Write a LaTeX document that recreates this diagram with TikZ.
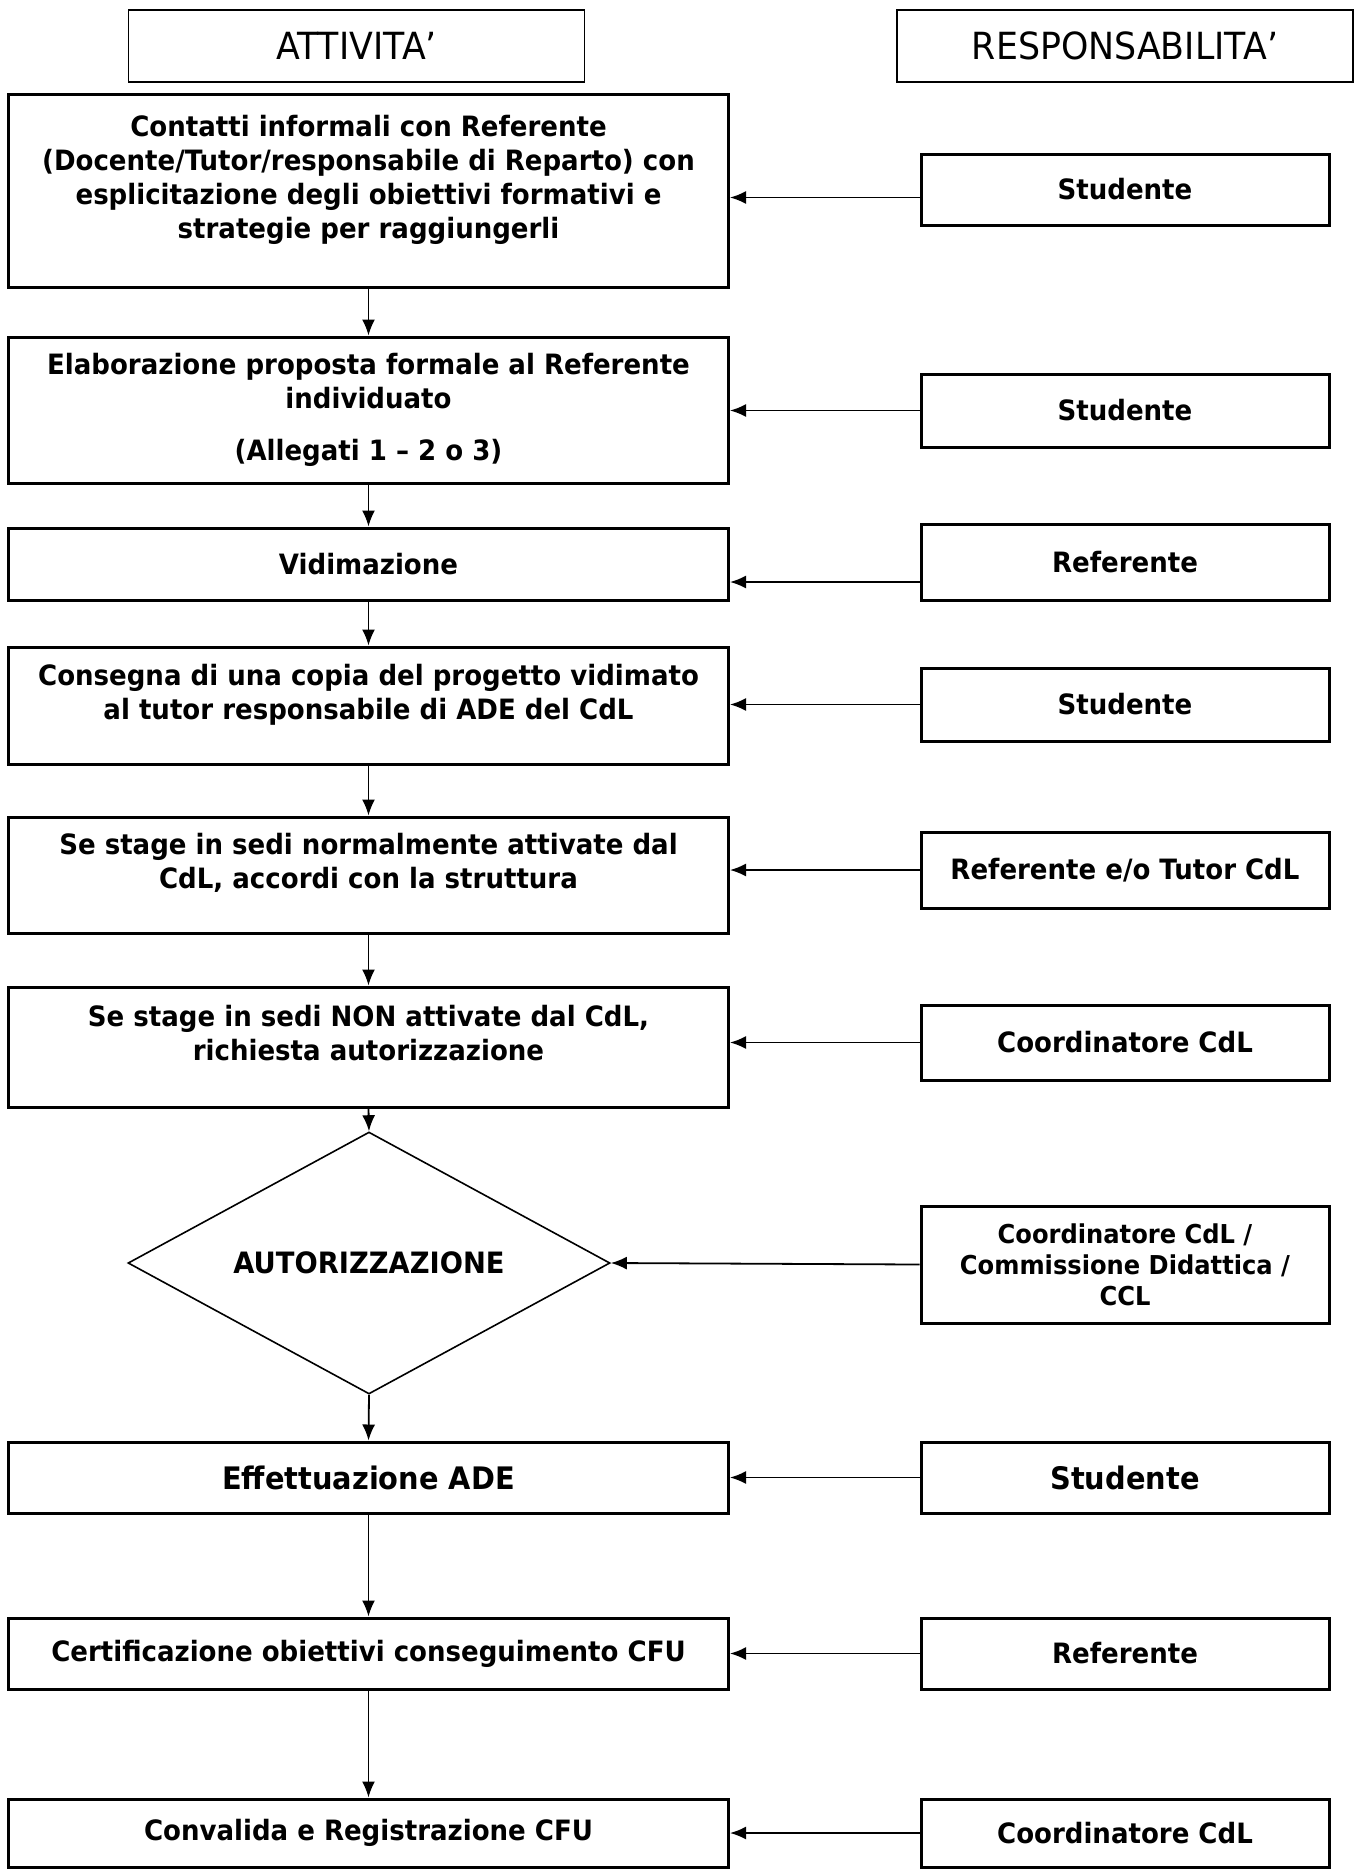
\documentclass[tikz,border=0pt]{standalone}
\usepackage{fontspec}
\setmainfont{DejaVu Sans}[FakeStretch=0.93]
\usetikzlibrary{arrows.meta}
\usetikzlibrary{shapes.geometric}

\newcommand{\rigavuota}{\\[-3pt]\mbox{}}

\begin{document}
\begin{tikzpicture}[x=0.5pt,y=-0.5pt,
    testa/.style={draw,line width=0.8pt,minimum width=228pt,minimum height=36pt,inner sep=0pt,font=\fontsize{18.7}{22}\selectfont},
    attivita/.style={draw,line width=1.5pt,minimum width=360pt,align=center,inner sep=0pt,font=\fontsize{14}{17}\selectfont\bfseries},
    resp/.style={draw,line width=1.5pt,minimum width=204pt,align=center,inner sep=0pt,font=\fontsize{14}{17}\selectfont\bfseries},
    grande/.style={font=\fontsize{15.5}{18}\selectfont\bfseries},
    freccia/.style={-{Latex[length=8pt,width=6.5pt]},line width=0.9pt},
  ]
  \useasboundingbox (0,0) rectangle (1359,1870);

  % intestazioni
  \node[testa] (hatt) at (356.5,46) {ATTIVITA’};
  \node[testa] (hresp) at (1125,46) {RESPONSABILITA’};

  % colonna attivita
  \node[attivita,minimum height=96.5pt] (a1) at (368.5,190.5) {Contatti informali con Referente\\(Docente/Tutor/responsabile di Reparto) con\\esplicitazione degli obiettivi formativi e\\strategie per raggiungerli\rigavuota};
  \node[attivita,minimum height=73pt] (a2) at (368.5,410) {Elaborazione proposta formale al Referente\\individuato\\[9pt](Allegati 1 – 2 o 3)};
  \node[attivita,minimum height=36pt] (a3) at (368.5,564) {Vidimazione};
  \node[attivita,minimum height=58.5pt] (a4) at (368.5,705.5) {Consegna di una copia del progetto vidimato\\al tutor responsabile di ADE del CdL\rigavuota};
  \node[attivita,minimum height=58pt] (a5) at (368.5,875) {Se stage in sedi normalmente attivate dal\\CdL, accordi con la struttura\rigavuota};
  \node[attivita,minimum height=60pt] (a6) at (368.5,1047) {Se stage in sedi NON attivate dal CdL,\\richiesta autorizzazione\rigavuota};
  \node[draw,diamond,aspect=1.84,line width=0.8pt,minimum width=241pt,minimum height=131pt,inner sep=0pt,font=\fontsize{14.7}{17}\selectfont\bfseries] (d) at (369,1263) {AUTORIZZAZIONE};
  \node[attivita,grande,minimum height=35.5pt] (a8) at (368.5,1477.5) {Effettuazione ADE};
  \node[attivita,minimum height=35.5pt] (a9) at (368.5,1653.5) {Certificazione obiettivi conseguimento CFU};
  \node[attivita,minimum height=34pt] (a10) at (368.5,1833) {Convalida e Registrazione CFU};

  % colonna responsabilita
  \node[resp,minimum height=35.5pt] (r1) at (1125,189.5) {Studente};
  \node[resp,minimum height=36.5pt] (r2) at (1125,410.5) {Studente};
  \node[resp,minimum height=38pt] (r3) at (1125,562) {Referente};
  \node[resp,minimum height=36.5pt] (r4) at (1125,704.5) {Studente};
  \node[resp,minimum height=38pt] (r5) at (1125,870) {Referente e/o Tutor CdL};
  \node[resp,minimum height=37.5pt] (r6) at (1125,1042.5) {Coordinatore CdL};
  \node[resp,minimum height=58.5pt,font=\fontsize{13}{15.5}\selectfont\bfseries] (r7) at (1125,1264.5) {Coordinatore CdL /\\Commissione Didattica /\\CCL};
  \node[resp,grande,minimum height=35.5pt] (r8) at (1125,1477.5) {Studente};
  \node[resp,minimum height=35.5pt] (r9) at (1125,1653.5) {Referente};
  \node[resp,minimum height=34pt] (r10) at (1125,1833) {Coordinatore CdL};

  % frecce
  \foreach \i in {2,4,5,6,8,9,10}
    \draw[freccia] (r\i.west) -- (r\i.west -| a\i.east);
  \draw[freccia] ([yshift=-4pt]r1.west) -- ([yshift=-4pt]r1.west -| a1.east);
  \draw[freccia] ([yshift=-10pt]r3.west) -- ([yshift=-10pt]r3.west -| a3.east);
  \draw[freccia] (r7.west) -- (d.east);
  \foreach \da/\a in {a1/a2,a2/a3,a3/a4,a4/a5,a5/a6,a6/d,d/a8,a8/a9,a9/a10}
    \draw[freccia] (\da.south) -- (\a.north);
\end{tikzpicture}
\end{document}
